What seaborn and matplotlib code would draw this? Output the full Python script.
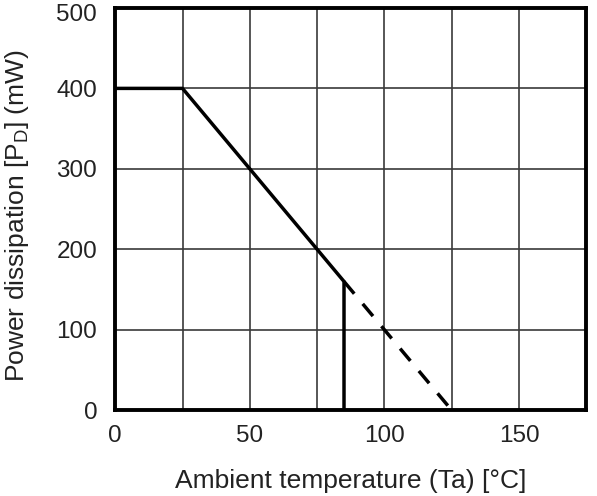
import matplotlib
matplotlib.use("Agg")
import matplotlib.pyplot as plt
import matplotlib.transforms as mtransforms
import seaborn as sns
import pandas as pd

# -- Дані
derating_temp = [0, 25, 85, 85]
derating_power = [400, 400, 160, 0]
extension_temp = [85, 125]
extension_power = [160, 0]

x_ticks = [0, 50, 100, 150]
y_ticks = [0, 100, 200, 300, 400, 500]

sns.set_theme(style="white")
plt.rcParams['font.family'] = ['Liberation Sans', 'DejaVu Sans']

fig, ax = plt.subplots(figsize=(5.97, 4.96), dpi=100)
fig.subplots_adjust(left=0.193, right=0.982, top=0.984, bottom=0.173)

solid = pd.DataFrame({'t': derating_temp, 'p': derating_power})
dashed = pd.DataFrame({'t': extension_temp, 'p': extension_power})

# estimator=None, щоб точки з однаковим x не усереднювались
sns.lineplot(data=solid, x='t', y='p', sort=False, estimator=None, color='black',
             lw=2.5, ax=ax, zorder=3)
sns.lineplot(data=dashed, x='t', y='p', sort=False, estimator=None, color='black',
             lw=2.5, ax=ax, zorder=3, linestyle=(0, (4.6, 3.8)))

ax.set_xlim(0, 175)
ax.set_ylim(0, 500)

# Сітка: кожні 25 по X, кожні 100 по Y
ax.set_xticks(range(0, 176, 25))
ax.set_xticklabels([str(v) if v in x_ticks else '' for v in range(0, 176, 25)])
ax.set_yticks(y_ticks)
ax.grid(True, color='#3a3a3a', lw=1.2)

for s in ax.spines.values():
    s.set_visible(True)
    s.set_color('black')
    s.set_linewidth(2.8)

ax.tick_params(axis='x', labelsize=17.5, colors='#222222', length=0, pad=11)
ax.tick_params(axis='y', labelsize=17.5, colors='#222222', length=0, pad=13)

# верхню мітку "500" трохи зсуваємо вниз, як в оригіналі
top_label = ax.get_yticklabels()[-1]
top_label.set_transform(top_label.get_transform() +
                        mtransforms.ScaledTranslation(0, -5 / 100, fig.dpi_scale_trans))

ax.set_xlabel('Ambient temperature (Ta) [°C]', fontsize=19, color='#222222')
ax.set_ylabel('Power dissipation [P$_\\mathregular{D}$] (mW)', fontsize=19, color='#222222')
ax.xaxis.set_label_coords(0.5, -0.146)
ax.yaxis.set_label_coords(-0.178, 0.485)

plt.savefig('out.png', dpi=100)
plt.close()
